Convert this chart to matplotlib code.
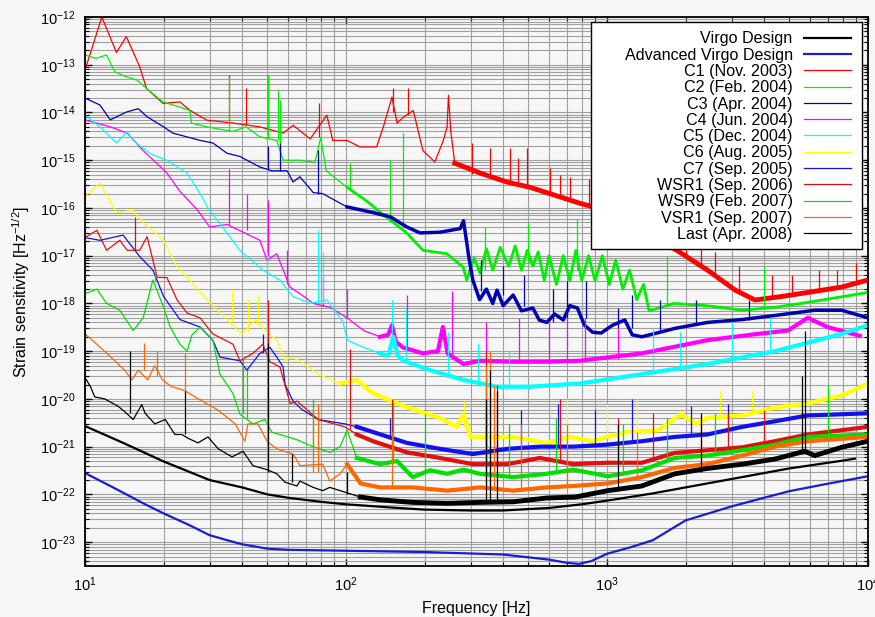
import numpy as np
import matplotlib
matplotlib.use('Agg')
import matplotlib.pyplot as plt
from matplotlib.patches import Rectangle
from matplotlib.ticker import FixedLocator, LogLocator, NullFormatter

plt.rcParams['font.family'] = ['Liberation Sans', 'DejaVu Sans']
plt.rcParams['mathtext.fontset'] = 'custom'
plt.rcParams['mathtext.rm'] = 'Liberation Sans'
plt.rcParams['mathtext.it'] = 'Liberation Sans:italic'
plt.rcParams['mathtext.bf'] = 'Liberation Sans:bold'

# ---- design curves ----
design_f = [10, 14, 20, 30, 40, 50, 60, 80, 100, 150, 200, 300, 400, 600, 800,
            1000, 1500, 2000, 3000, 5000, 8000, 8900]
design_h = [2.7e-21, 1.2e-21, 4.9e-22, 2.0e-22, 1.4e-22, 1.0e-22, 8.5e-23, 7.0e-23,
            6.2e-23, 5.3e-23, 4.8e-23, 4.6e-23, 4.6e-23, 5.2e-23, 6.2e-23,
            7.4e-23, 1.05e-22, 1.4e-22, 2.1e-22, 3.5e-22, 5.1e-22, 5.6e-22]

adv_f = [10, 12.5, 15, 17, 20, 25, 30, 35, 40, 50, 60, 100, 200, 400, 600, 700, 780,
         870, 1000, 1250, 1500, 2000, 3000, 4000, 5000, 7000, 10000]
adv_h = [2.8e-22, 1.5e-22, 8.9e-23, 6.2e-23, 4.0e-23, 2.3e-23, 1.4e-23, 1.1e-23,
         9.0e-24, 7.3e-24, 6.9e-24, 6.6e-24, 6.2e-24, 5.5e-24, 4.3e-24, 3.7e-24,
         3.5e-24, 4.0e-24, 5.7e-24, 8.0e-24, 1.1e-23, 2.85e-23, 5.6e-23, 8.5e-23,
         1.17e-22, 1.67e-22, 2.4e-22]

# ---- commissioning runs: (frequency, strain) plus line spikes (f, low, high) ----
c1_f = [10, 11.6, 13.2, 14.4, 16.2, 17.2, 19.9, 23.1, 25.3, 29.3, 36.9, 46.7, 57.4,
        62.7, 72.9, 84.4, 89, 101, 113, 131, 139, 150, 157, 166, 181, 197, 219, 236,
        244, 247, 252, 261, 326, 413, 508, 785, 1055, 1350, 1850, 2425, 3100, 3690,
        4680, 5880, 7930, 10000]
c1_h = [7.7e-14, 1.0e-12, 1.8e-13, 3.9e-13, 9.1e-14, 3.2e-14, 1.55e-14, 1.66e-14,
        1.1e-14, 6.9e-15, 6e-15, 5e-15, 3.7e-15, 5.4e-15, 2.8e-15, 8.8e-15, 2.6e-15,
        2.6e-15, 1.9e-15, 1.9e-15, 5e-15, 2.1e-14, 6e-15, 8e-15, 1.1e-14, 1.6e-15,
        9.2e-16, 2.6e-15, 5e-15, 2.3e-14, 4e-15, 8.7e-16, 5.4e-16, 3.5e-16, 2.7e-16,
        1.26e-16, 8.1e-17, 3.4e-17, 1.3e-17, 5e-18, 1.9e-18, 1.18e-18, 1.4e-18,
        1.7e-18, 2.2e-18, 3.1e-18]
c1_spikes = [(35.5, 6e-15, 6.1e-14), (41.4, 5.5e-15, 3.2e-14), (50.4, 4.5e-15, 6.1e-14),
             (78.7, 3e-15, 1.6e-14), (151.8, 1e-14, 3.2e-14), (172.5, 9e-15, 3.2e-14),
             (303, 5.2e-16, 2.3e-15), (356, 4.6e-16, 1.8e-15), (425, 3.4e-16, 1.8e-15),
             (457, 3.1e-16, 1.1e-15), (494, 2.8e-16, 1.8e-15), (605, 2e-16, 7e-16),
             (660, 1.7e-16, 5e-16), (720, 1.5e-16, 4.5e-16), (850, 1.1e-16, 4e-16),
             (950, 9.5e-17, 3e-16), (1050, 8e-17, 2.5e-16), (1150, 6e-17, 2e-16),
             (1250, 4.5e-17, 1.5e-16), (1400, 3.2e-17, 1.1e-16), (1500, 2.6e-17, 9e-17),
             (1700, 1.8e-17, 6e-17), (2000, 1.1e-17, 3e-17), (2300, 6e-18, 2e-17),
             (2600, 4e-18, 1.2e-17), (3200, 1.8e-18, 6e-18), (4300, 1.3e-18, 4e-18),
             (5100, 1.5e-18, 4e-18), (6500, 1.8e-18, 5e-18), (7600, 2e-18, 5e-18),
             (9000, 2.7e-18, 7e-18)]

c2_f = [10, 11, 12.1, 13, 14.4, 15.8, 17.2, 19.9, 23.1, 25.2, 25.6, 29.3, 36.9, 41.4,
        46.7, 54.3, 57.4, 66.6, 76, 80, 84, 101, 120, 140, 171, 197, 243, 281, 290,
        310, 326, 345, 365, 390, 420, 445, 470, 495, 520, 545, 575, 600, 640, 680, 720,
        760, 800, 850, 900, 960, 1020, 1080, 1150, 1220, 1300, 1380, 1450, 1800, 2400,
        3300, 4400, 5880, 10000]
c2_h = [1.6e-13, 1.36e-13, 1.6e-13, 7.1e-14, 5.6e-14, 4.8e-14, 3.2e-14, 1.66e-14,
        1.3e-14, 1.1e-14, 6e-15, 5e-15, 4e-15, 5e-15, 3.1e-15, 2.6e-15, 1e-15, 1e-15,
        9e-16, 3e-15, 6e-16, 2.7e-16, 1.4e-16, 7e-17, 3e-17, 1.3e-17, 1.1e-17, 5.8e-18,
        3.1e-18, 9e-18, 4.3e-18, 1.4e-17, 5e-18, 1.5e-17, 6e-18, 1.6e-17, 5e-18,
        1.3e-17, 6e-18, 1.2e-17, 3e-18, 1e-17, 2.5e-18, 1e-17, 3e-18, 1.3e-17, 3e-18,
        1e-17, 3e-18, 1e-17, 2.5e-18, 8e-18, 2e-18, 5e-18, 1.2e-18, 2.5e-18, 7e-19,
        1e-18, 9e-19, 7.2e-19, 8.3e-19, 1.05e-18, 1.7e-18]
c2_spikes = [(35.5, 4e-15, 5.6e-14), (50.2, 3e-15, 6.1e-14), (54.8, 2.6e-15, 2.9e-14),
             (55.8, 1.5e-15, 1.8e-14), (103.6, 2.5e-16, 8.7e-16), (148, 7e-17, 1e-15),
             (165, 4e-17, 3.7e-15), (340, 5e-18, 4e-17), (500, 7e-18, 5e-17),
             (770, 5e-18, 6e-17), (1700, 9e-19, 1e-17), (4000, 8e-19, 6e-18)]

c3_f = [10, 11.4, 12.5, 14.4, 16, 17.3, 20, 21.7, 27.6, 30.9, 35, 39.2, 46.8, 52,
        59.5, 62.7, 66.6, 74.9, 81.4, 94.9, 101, 127, 148, 171, 192, 229, 274, 282,
        295, 306, 325, 345, 365, 379, 400, 437, 470, 520, 550, 588, 630, 680, 720, 770,
        820, 880, 950, 1050, 1170, 1250, 1360, 1600, 1820, 2425, 3300, 4400, 6250,
        7930, 10000]
c3_h = [2e-14, 1.44e-14, 7e-15, 1.02e-14, 1.2e-14, 8.1e-15, 5e-15, 3.7e-15, 2.6e-15,
        2.3e-15, 1.4e-15, 1.2e-15, 7.2e-16, 6e-16, 6e-16, 3.5e-16, 4.5e-16, 2.1e-16,
        2e-16, 1.26e-16, 1.05e-16, 8e-17, 6.5e-17, 4e-17, 3e-17, 3.1e-17, 3.7e-17,
        5.4e-17, 1e-17, 3.1e-18, 1.2e-18, 2e-18, 1e-18, 1.9e-18, 9e-19, 1.5e-18,
        7e-19, 8e-19, 4.5e-19, 4e-19, 6e-19, 4.5e-19, 9e-19, 8e-19, 3.5e-19, 2.5e-19,
        2.4e-19, 3.5e-19, 4.5e-19, 2.2e-19, 2e-19, 2.5e-19, 3e-19, 4e-19, 4.6e-19,
        5.6e-19, 7.2e-19, 7.2e-19, 5e-19]
c3_spikes = [(50.2, 6.5e-16, 2e-15), (55.8, 6e-16, 2.3e-15), (78.3, 2e-16, 1.6e-15),
             (330, 1.8e-18, 8e-18), (400, 1.5e-18, 6e-18), (480, 9e-19, 4e-18),
             (620, 4e-19, 2e-18), (700, 5e-19, 3e-18), (830, 5e-19, 3e-18),
             (1100, 3e-19, 8e-19), (1250, 3e-19, 1.5e-18), (1600, 2.5e-19, 1.2e-18),
             (2200, 3.5e-19, 1.2e-18), (3500, 4.5e-19, 1.2e-18)]

c4_f = [10, 12.5, 14.5, 16.7, 20.6, 23, 27, 30, 35, 39, 46.8, 49.8, 54.3, 61, 66.6,
        74.9, 86.7, 101, 117, 135, 145, 150, 155, 165, 197, 225, 235, 245, 257, 282,
        326, 437, 588, 785, 1360, 2425, 3780, 4930, 5880, 7000, 9300]
c4_h = [7e-15, 5e-15, 3.7e-15, 1.6e-15, 5.4e-16, 2.3e-16, 9e-17, 4e-17, 4.5e-17,
        3.4e-17, 2.1e-17, 8e-18, 1.1e-17, 2.2e-18, 1.6e-18, 1e-18, 8.3e-19, 5e-19,
        2.7e-19, 2e-19, 2.2e-19, 3.5e-19, 1.6e-19, 1.2e-19, 9e-20, 1e-19, 3.2e-19,
        9e-20, 7.5e-20, 5.4e-20, 6.3e-20, 6e-20, 6e-20, 6.3e-20, 9e-20, 1.7e-19,
        2.3e-19, 2.7e-19, 5e-19, 3.2e-19, 2.1e-19]
c4_spikes = [(35.6, 4.5e-17, 6.7e-16), (41.7, 3.4e-17, 2e-16), (50.2, 1e-17, 1.5e-16),
             (59.5, 2.5e-18, 1.3e-17), (81.4, 9e-19, 3.5e-18), (101, 5e-19, 2e-18),
             (171, 1.2e-19, 1.5e-18), (255, 8e-20, 1.8e-18), (345, 6e-20, 4e-19),
             (460, 6e-20, 5e-19), (600, 6e-20, 4e-19), (700, 6e-20, 5e-19),
             (820, 6.3e-20, 5e-19), (1100, 7e-20, 3e-19)]

c5_f = [10, 11.4, 13.2, 14.5, 15.3, 17.7, 20.6, 24.6, 27.6, 29.6, 35, 39.2, 48, 55.8,
        62.7, 72.9, 84.4, 97.5, 101, 117, 135, 145, 151.8, 158, 166, 210, 282, 379,
        506, 785, 1360, 2425, 4400, 7930, 10000]
c5_h = [8.8e-15, 5e-15, 2.3e-15, 4e-15, 2.6e-15, 1.4e-15, 1e-15, 5.4e-16, 2e-16, 1e-16,
        3e-17, 1.3e-17, 5e-18, 3.1e-18, 1.4e-18, 1e-18, 1.2e-18, 4e-19, 1.7e-19,
        1.2e-19, 9e-20, 8e-20, 2e-19, 8e-20, 6.3e-20, 4e-20, 2.5e-20, 1.8e-20, 1.8e-20,
        2.1e-20, 3.3e-20, 5.4e-20, 1e-19, 2.3e-19, 3.5e-19]
c5_spikes = [(49.8, 5e-18, 1.2e-17), (78.3, 1e-18, 3.4e-17), (81.4, 1e-18, 1.2e-17),
             (150, 1.5e-19, 1.2e-18), (170, 6e-20, 8e-19), (245, 3e-20, 2.5e-19),
             (320, 2.2e-20, 1.5e-19), (420, 1.8e-20, 1e-19), (1500, 3.5e-20, 3e-19),
             (1900, 4e-20, 2.5e-19), (3000, 7e-20, 4e-19), (4200, 1e-19, 5e-19)]

c6_f = [10, 11.4, 12.5, 13.2, 15.3, 16.7, 20, 22.5, 25.2, 29.3, 35, 38.6, 40, 45, 49,
        54.3, 58.4, 61, 66.6, 78.3, 95, 110, 127, 171, 229, 266, 282, 300, 437, 588,
        720, 875, 1170, 1570, 1925, 2200, 2425, 3300, 4400, 5880, 8000, 10000]
c6_h = [1.7e-16, 3.3e-16, 1.4e-16, 8e-17, 9e-17, 5e-17, 2.1e-17, 6e-18, 3.1e-18,
        1.2e-18, 4.6e-19, 2.7e-19, 2.3e-19, 4.6e-19, 2.7e-19, 1.7e-19, 6.3e-20,
        7.5e-20, 6.3e-20, 3.3e-20, 2.1e-20, 2.5e-20, 1.3e-20, 6.7e-21, 4e-21, 2.6e-21,
        4.8e-21, 1.6e-21, 1.6e-21, 1.2e-21, 1.6e-21, 1.3e-21, 2e-21, 2.2e-21, 4.8e-21,
        3e-21, 4e-21, 4.5e-21, 6.6e-21, 8e-21, 1.2e-20, 2.1e-20]
c6_spikes = [(36.6, 4e-19, 2e-18), (42.1, 2.5e-19, 1.2e-18), (46, 3.5e-19, 1.5e-18),
             (50.2, 2.7e-19, 1e-18), (282, 2.6e-21, 9e-21), (700, 1.5e-21, 1e-20),
             (1000, 1.5e-21, 8e-21), (1300, 2e-21, 1e-20), (2700, 4e-21, 1.5e-20),
             (3600, 5e-21, 1.5e-20)]

c7_f = [10, 11.4, 14, 16.2, 18.2, 20, 23.1, 27.6, 30.9, 32.9, 39.2, 41.7, 46.8, 51.1,
        54.3, 57.4, 58.4, 62.7, 67.8, 78.3, 99, 110, 171, 229, 306, 415, 553, 742,
        1000, 1360, 1820, 2425, 3300, 4400, 5880, 10000]
c7_h = [2.4e-17, 2.1e-17, 2.7e-17, 9.6e-18, 5e-18, 1.4e-18, 4.6e-19, 3.2e-19, 1.7e-19,
        7.5e-20, 6.3e-20, 4e-20, 9e-20, 1.2e-19, 7.5e-20, 4.7e-20, 2e-20, 9e-21, 6e-21,
        3.7e-21, 3e-21, 2.6e-21, 1.2e-21, 9e-22, 7e-22, 9e-22, 1e-21, 1e-21, 1.1e-21,
        1.3e-21, 1.6e-21, 1.8e-21, 2.6e-21, 3.4e-21, 4.5e-21, 5e-21]
c7_spikes = [(48, 9e-20, 2.3e-19), (147.8, 1.5e-21, 4e-21), (345, 7e-22, 5e-21),
             (470, 9e-22, 6e-21), (650, 1e-21, 8e-21), (900, 1e-21, 6e-21),
             (1250, 1.2e-21, 1e-20), (2100, 1.7e-21, 7e-21), (2900, 2.2e-21, 8e-21)]

w1_f = [10, 11.1, 12.1, 13.6, 14.5, 16.2, 17.3, 18.9, 20.6, 22.5, 24.6, 27.6, 30.9,
        36.9, 39.2, 44, 48, 51.1, 55.8, 61.1, 64.9, 78.3, 99, 110, 127, 171, 229, 306,
        415, 553, 742, 1000, 1360, 1820, 2425, 3300, 4400, 5880, 10000]
w1_h = [2.4e-17, 3.4e-17, 1.3e-17, 2.1e-17, 1.3e-17, 1.3e-17, 2.5e-17, 3.5e-18,
        3.5e-18, 1.2e-18, 6.3e-19, 5e-19, 2.3e-19, 1.4e-19, 6.3e-20, 9e-20, 1.4e-19,
        6e-20, 4.7e-20, 8e-21, 9e-21, 3.7e-21, 2.6e-21, 1.8e-21, 1.3e-21, 7.6e-22,
        5.8e-22, 4.3e-22, 4.3e-22, 5.8e-22, 4.3e-22, 4.6e-22, 4.6e-22, 7.4e-22,
        8.4e-22, 9.7e-22, 1.3e-21, 1.8e-21, 2.6e-21]
w1_spikes = [(15.5, 1.3e-17, 6.5e-17), (50.2, 6e-20, 1.2e-18), (103.6, 2.3e-21, 1.1e-19),
             (150, 1e-21, 1e-20), (345, 4.3e-22, 1e-19), (380, 4.3e-22, 2e-20),
             (660, 5e-22, 1e-20), (1100, 4.6e-22, 4e-21), (1500, 5e-22, 5e-21),
             (2900, 9e-22, 5e-21), (4000, 1.2e-21, 6e-21)]

w9_f = [10, 11.1, 12.1, 13.6, 15.3, 16.7, 18.2, 20, 21.2, 23.1, 24.6, 25.7, 27.6, 30.9,
        32.9, 36.9, 39.2, 44, 48.9, 52, 55.8, 64.9, 74.9, 86.7, 94.9, 101, 110, 135,
        157, 180, 210, 244, 282, 326, 437, 588, 742, 1009, 1360, 1820, 2425, 3300,
        4400, 5880, 10000]
w9_h = [1.6e-18, 2e-18, 1e-18, 7.2e-19, 2.7e-19, 5e-19, 3.1e-18, 8.3e-19, 3.2e-19,
        1.4e-19, 1e-19, 2.2e-19, 3.2e-19, 1.7e-19, 3.3e-20, 1.3e-20, 4.8e-21, 3e-21,
        3.7e-21, 2e-21, 1.8e-21, 1.4e-21, 1e-21, 7.6e-22, 1e-21, 2.2e-21, 5.8e-22,
        4.3e-22, 5e-22, 2.3e-22, 3.2e-22, 2.7e-22, 3.3e-22, 2.7e-22, 2.3e-22, 2.7e-22,
        3.3e-22, 2.4e-22, 3.2e-22, 5.8e-22, 6.5e-22, 8.4e-22, 1.1e-21, 1.6e-21, 1.8e-21]
w9_spikes = [(18.5, 3e-18, 5e-18), (40.3, 5e-21, 7e-20), (41.7, 4e-21, 4e-20),
             (50.2, 2e-21, 2e-20), (75, 1e-21, 1e-20), (152, 5e-22, 9e-21),
             (200, 3e-22, 5e-21), (345, 2.7e-22, 2e-20), (420, 2.3e-22, 3e-21),
             (640, 2.7e-22, 4e-21), (1150, 2.6e-22, 3e-21), (1700, 5e-22, 4e-21),
             (2600, 6.5e-22, 5e-21), (7000, 1.7e-21, 2e-20)]

v1_f = [10, 11.1, 13, 14.2, 15.1, 16, 17.4, 18.5, 19.8, 21.5, 24.1, 26.4, 32.4, 37.6,
        41, 42.1, 46, 49.8, 54.3, 62.7, 66.6, 81.4, 86.7, 94.9, 101, 113.6, 135, 180,
        244, 326, 437, 588, 742, 1009, 1360, 1820, 2425, 3300, 4400, 5880, 10000]
v1_h = [2.3e-19, 1.4e-19, 6.3e-20, 4e-20, 2.5e-20, 4e-20, 2.5e-20, 5e-20, 2.5e-20,
        1.8e-20, 1.5e-20, 1.1e-20, 5.8e-21, 3e-21, 1.3e-21, 3e-21, 3e-21, 1.3e-21,
        9e-22, 7e-22, 4e-22, 4.3e-22, 1.9e-22, 2.7e-22, 4.3e-22, 1.7e-22, 1.4e-22,
        1.4e-22, 1.2e-22, 1.4e-22, 1.2e-22, 1.4e-22, 1.5e-22, 1.7e-22, 2.3e-22,
        3.6e-22, 4.3e-22, 6.5e-22, 1e-21, 1.3e-21, 1.6e-21]
v1_spikes = [(16.8, 4e-20, 1.5e-19), (18.9, 3e-20, 1e-19), (24.1, 1.5e-20, 9e-20),
             (75, 3e-22, 6e-21), (78.3, 3e-22, 8e-21), (150, 1.4e-22, 2e-21),
             (345, 1.4e-22, 5e-20), (356, 1.4e-22, 1e-19), (370, 1.4e-22, 2e-20),
             (470, 1.3e-22, 3e-21), (700, 1.5e-22, 3e-21), (1300, 2e-22, 2e-21),
             (2300, 4e-22, 4e-21)]

last_f = [10, 10.5, 10.9, 11.9, 13.4, 14.2, 15.3, 16.5, 17, 18.5, 20.3, 22.1, 23.5,
          24.8, 27.1, 29.6, 32.4, 36.6, 40.3, 44, 49.8, 54.3, 58.4, 64.9, 66.6, 74.9,
          81.4, 86.7, 113.6, 135, 180, 244, 326, 437, 588, 756, 1009, 1360, 1820,
          2425, 3300, 4400, 5720, 6250, 7930, 10000]
last_h = [2.8e-20, 1.8e-20, 1.1e-20, 1e-20, 7e-21, 5.4e-21, 3.7e-21, 7.6e-21, 5e-21,
          3e-21, 3.7e-21, 1.8e-21, 1.8e-21, 1.5e-21, 1.2e-21, 1.6e-21, 9e-22, 6.1e-22,
          8e-22, 4e-22, 3.3e-22, 2.7e-22, 1.8e-22, 1.5e-22, 1.9e-22, 1.4e-22, 1.2e-22,
          1.4e-22, 8.8e-23, 7.7e-23, 6.8e-23, 6.5e-23, 6.8e-23, 7e-23, 8.4e-23,
          8.8e-23, 1.2e-22, 1.5e-22, 2.7e-22, 3.5e-22, 4.3e-22, 5.5e-22, 8e-22,
          6.5e-22, 9.7e-22, 1.3e-21]
last_spikes = [(14.9, 5e-21, 1e-19), (24.1, 1.8e-21, 1.5e-20), (50.2, 3e-22, 1.5e-19),
               (62.2, 1.8e-22, 7e-22), (101, 1e-22, 3e-22), (345, 6.8e-23, 1e-20),
               (356, 6.8e-23, 4e-20), (380, 6.8e-23, 1.5e-20), (1100, 1.2e-22, 3e-21),
               (2300, 3e-22, 5e-21), (5600, 7e-22, 3e-20), (5720, 8e-22, 2.6e-19)]

# label, colour, data, spikes, frequency where the noisy band starts, band width
runs = [
    ('C1 (Nov. 2003)', '#ff0000', c1_f, c1_h, c1_spikes, 255, 3.5),
    ('C2 (Feb. 2004)', '#00f000', c2_f, c2_h, c2_spikes, 95, 2.0),
    ('C3 (Apr. 2004)', '#0000b4', c3_f, c3_h, c3_spikes, 95, 2.5),
    ('C4 (Jun. 2004)', '#ff00ff', c4_f, c4_h, c4_spikes, 120, 3.0),
    ('C5 (Dec. 2004)', '#00ffff', c5_f, c5_h, c5_spikes, 120, 3.0),
    ('C6 (Aug. 2005)', '#ffff00', c6_f, c6_h, c6_spikes, 90, 3.0),
    ('C7 (Sep. 2005)', '#1010f0', c7_f, c7_h, c7_spikes, 110, 3.0),
    ('WSR1 (Sep. 2006)', '#e01010', w1_f, w1_h, w1_spikes, 110, 3.0),
    ('WSR9 (Feb. 2007)', '#00e000', w9_f, w9_h, w9_spikes, 110, 3.0),
    ('VSR1 (Sep. 2007)', '#ff6600', v1_f, v1_h, v1_spikes, 100, 3.0),
    ('Last (Apr. 2008)', '#000000', last_f, last_h, last_spikes, 90, 3.5),
]

fig = plt.figure(figsize=(8.75, 6.17), dpi=100, facecolor='#f6f6f6')
ax = fig.add_axes([85 / 875, 1 - 566 / 617, 783 / 875, 549 / 617])
ax.set_facecolor('#f6f6f6')
ax.set_xscale('log')
ax.set_yscale('log')

handles = []
h, = ax.plot(design_f, design_h, color='black', lw=1.6, label='Virgo Design')
handles.append(h)
h, = ax.plot(adv_f, adv_h, color='#1c1cd0', lw=1.6, label='Advanced Virgo Design')
handles.append(h)

for label, col, f, s, spikes, f_band, lw_band in runs:
    f = np.array(f)
    s = np.array(s)
    h, = ax.plot(f, s, color=col, lw=0.9, label=label)
    band = f >= f_band
    ax.plot(f[band], s[band], color=col, lw=lw_band)
    sp = np.array(spikes)
    ax.vlines(sp[:, 0], sp[:, 1], sp[:, 2], color=col, lw=0.9)
    handles.append(h)

ax.set_xlim(10, 1e4)
ax.set_ylim(10 ** -23.5, 1e-12)

ax.xaxis.set_major_locator(FixedLocator([1e1, 1e2, 1e3, 1e4]))
ax.yaxis.set_major_locator(FixedLocator([10.0 ** k for k in range(-23, -11)]))
ax.yaxis.set_minor_locator(LogLocator(base=10, subs=np.arange(2, 10), numticks=20))
ax.yaxis.set_minor_formatter(NullFormatter())
ax.xaxis.set_minor_formatter(NullFormatter())

ax.grid(True, which='both', color='#a0a0a0', lw=0.8)
ax.set_axisbelow(True)
ax.tick_params(which='both', direction='in', top=True, right=True, labelsize=10.5)
ax.tick_params(which='major', length=5, width=1, pad=7)
ax.tick_params(which='minor', length=3, width=0.8)
for sp in ax.spines.values():
    sp.set_linewidth(1.3)

ax.set_xlabel('Frequency [Hz]', fontsize=11.5, labelpad=5)
ax.set_ylabel('Strain sensitivity [Hz$^{-1/2}$]', fontsize=11.5, labelpad=6)

# key box, drawn separately so it can be wider than the entries
ax.add_patch(Rectangle((0.6462, 0.5774), 0.3461, 0.4135, transform=ax.transAxes,
                       facecolor='white', edgecolor='black', lw=1.0, zorder=4.9))
leg = ax.legend(handles=handles, loc='upper right', bbox_to_anchor=(0.9872, 0.987),
                markerfirst=False, fontsize=11.6, labelspacing=0.08, handlelength=2.9,
                handletextpad=0.7, borderpad=0.45, borderaxespad=0, frameon=False)
leg.set_zorder(5)

fig.savefig('out.png', dpi=100, facecolor=fig.get_facecolor())
